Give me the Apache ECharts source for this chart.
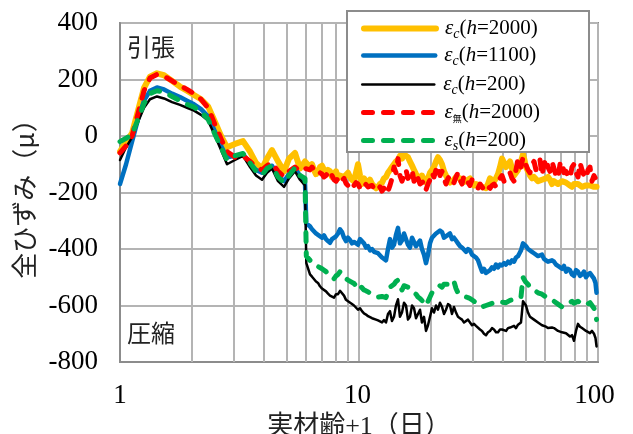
<!DOCTYPE html>
<html>
<head>
<meta charset="utf-8">
<script src="https://cdn.jsdelivr.net/npm/echarts@6/dist/echarts.min.js"></script>
<style>
  html, body { margin: 0; padding: 0; background: #fff; }
  #chart { width: 633px; height: 434px; }
</style>
</head>
<body>
<div id="chart"></div>
<script>
// Age + 1 (days), shared by every series
const age = [
  1.000, 1.060, 1.123, 1.190, 1.260, 1.335, 1.428, 1.528, 1.651, 1.782,
  1.907, 2.040, 2.183, 2.335, 2.498, 2.647, 2.804, 3.028, 3.271, 3.499,
  3.707, 3.928, 4.122, 4.325, 4.583, 4.856, 5.095, 5.398, 5.664, 5.943,
  6.000, 6.020,
  6.237, 6.360, 6.481, 6.608, 6.737, 6.868, 7.002, 7.138, 7.277, 7.419,
  7.564, 7.711, 7.861, 8.014, 8.170, 8.329, 8.491, 8.656, 8.823, 8.995,
  9.170, 9.349, 9.531, 9.714, 9.904, 10.10, 10.29, 10.49, 10.70, 10.91,
  11.12, 11.34, 11.56, 11.78, 12.01, 12.24, 12.48, 12.72, 12.97, 13.22,
  13.48, 13.74, 14.01, 14.28, 14.56, 14.84, 15.13, 15.43, 15.73, 16.03,
  16.34, 16.67, 16.99, 17.32, 17.65, 18.00, 18.34, 18.71, 19.07, 19.44,
  19.82, 20.20, 20.59, 21.00, 21.40, 21.82, 22.25, 22.68, 23.12, 23.57,
  24.03, 24.49, 24.97, 25.46, 25.95, 26.46, 26.98, 27.50, 28.03, 28.58,
  29.14, 29.70, 30.28, 30.87, 31.47, 32.08, 32.71, 33.34, 33.99, 34.65,
  35.33, 36.01, 36.72, 37.43, 38.16, 38.90, 39.66, 40.43, 41.22, 42.02,
  42.84, 43.67, 44.52, 45.38, 46.27, 46.95, 47.62, 48.55, 49.26, 49.96,
  50.94, 51.93, 52.94, 53.97, 55.02, 56.10, 57.19, 58.30, 59.43, 60.59,
  61.77, 62.97, 64.19, 65.45, 66.71, 68.02, 69.34, 70.69, 72.06, 73.47,
  74.89, 76.35, 77.84, 79.36, 80.89, 82.48, 84.07, 85.72, 87.38, 89.09,
  90.81, 92.59, 94.38, 96.22, 97.61, 98.6
];

// Total strain (μ)
const epsC2000 = [
  -55, -20, 10, 90, 170, 210, 222, 215, 195, 175,
  160, 145, 130, 105, 50, 0, -40, -28, -18, -55,
  -95, -115, -80, -50, -90, -125, -80, -60, -115, -90,
  -90, -92,
  -110, -100, -120, -135, -127, -110, -105, -120, -135, -120,
  -125, -145, -140, -125, -150, -140, -135, -145, -150, -130,
  -145, -155, -160, -130, -100, -140, -170, -150, -160, -165,
  -155, -170, -175, -185, -180, -170, -165, -150, -145, -130,
  -120, -110, -100, -90, -85, -70, -80, -65, -60, -75,
  -90, -105, -120, -135, -145, -150, -140, -155, -165, -150,
  -130, -120, -110, -90, -75, -85, -100, -125, -140, -155,
  -165, -160, -155, -145, -140, -150, -165, -170, -160, -155,
  -150, -165, -175, -170, -165, -175, -180, -175, -185, -170,
  -150, -145, -160, -150, -135, -110, -80, -95, -110, -100,
  -90, -115, -140, -130, -120, -100, -90, -65, -85, -110,
  -125, -140, -150, -145, -150, -160, -165, -155, -160, -150,
  -145, -155, -170, -160, -165, -170, -175, -160, -155, -165,
  -170, -175, -180, -170, -165, -170, -175, -180, -185, -175,
  -170, -175, -170, -180, -175, -180
];
const epsC1100 = [
  -170, -100, -20, 60, 125, 160, 172, 165, 150, 138,
  125, 112, 95, 70, 15, -35, -75, -70, -65, -95,
  -120, -130, -110, -105, -140, -160, -135, -115, -140, -165,
  -170, -310,
  -320, -330, -335, -345, -350, -355, -360, -352, -365, -372,
  -378, -365, -370, -355, -345, -330, -340, -360, -372, -360,
  -368, -380, -375, -370, -385, -365, -358, -380, -395, -390,
  -405, -400, -410, -405, -415, -420, -430, -425, -440, -400,
  -365, -395, -385, -350, -325, -380, -370, -345, -350, -385,
  -395, -360, -365, -390, -380, -370, -400, -420, -450, -420,
  -380, -360, -365, -345, -350, -335, -340, -360, -365, -350,
  -345, -365, -360, -370, -380, -390, -395, -400, -410, -400,
  -405, -420, -425, -430, -440, -460, -480, -470, -485, -480,
  -475, -465, -470, -455, -465, -455, -458, -450, -455, -445,
  -450, -440, -445, -430, -425, -415, -405, -380, -385, -390,
  -400, -405, -410, -415, -420, -425, -430, -420, -435, -440,
  -445, -450, -440, -445, -455, -460, -465, -470, -460, -480,
  -470, -475, -490, -495, -475, -480, -495, -490, -480, -500,
  -490, -485, -495, -505, -520, -555
];
const epsC200 = [
  -85, -40, -5, 50, 100, 130, 140, 133, 120, 110,
  100, 90, 75, 55, 0, -50, -100, -85, -70, -110,
  -140, -155, -130, -115, -160, -180, -150, -125, -155, -175,
  -180, -450,
  -490, -498, -505, -515, -520, -532, -540, -545, -550, -558,
  -565, -570, -572, -560, -560, -548, -550, -565, -580, -585,
  -590, -595, -600, -598, -615, -610, -620, -628, -632, -638,
  -642, -645, -648, -650, -653, -655, -660, -652, -660, -630,
  -620, -655, -640, -600, -578, -640, -625, -590, -600, -650,
  -640, -600, -610, -645, -630, -615, -660, -640, -690, -670,
  -640, -610, -625, -600, -615, -590, -605, -630, -615, -595,
  -600, -630, -605, -625, -640, -645, -650, -660, -655, -650,
  -660, -670, -665, -672, -675, -685, -690, -700, -705, -695,
  -690, -680, -685, -695, -695, -685, -685, -690, -690, -680,
  -678, -685, -672, -680, -668, -665, -660, -585, -590, -600,
  -625, -640, -645, -650, -655, -660, -665, -670, -668, -675,
  -680, -685, -678, -680, -685, -690, -688, -695, -690, -698,
  -700, -710, -705, -725, -690, -665, -675, -680, -685, -690,
  -695, -698, -690, -700, -715, -745
];
const epsMu2000 = [
  -60, -35, 0, 80, 160, 205, 218, 212, 195, 178,
  165, 150, 130, 100, 40, -10, -55, -75, -70, -90,
  -110, -120, -105, -95, -125, -145, -125, -110, -125, -115,
  -115, -117,
  -120, -110, -115, -130, -125, -120, -135, -145, -140, -130,
  -148, -140, -155, -160, -150, -165, -160, -150, -168, -175,
  -160, -170, -175, -165, -170, -185, -178, -165, -172, -180,
  -185, -175, -180, -195, -190, -180, -195, -185, -205, -195,
  -175, -150, -110, -130, -80, -140, -160, -140, -120, -150,
  -140, -120, -160, -135, -150, -170, -175, -160, -190, -170,
  -155, -130, -145, -120, -105, -140, -125, -150, -170, -150,
  -140, -160, -165, -145, -130, -155, -170, -140, -150, -165,
  -175, -155, -160, -175, -185, -170, -180, -190, -195, -180,
  -185, -175, -170, -180, -165, -150, -140, -160, -155, -140,
  -130, -150, -160, -120, -80, -100, -110, -75, -90, -95,
  -120, -130, -100, -90, -120, -110, -85, -140, -100, -80,
  -110, -125, -90, -115, -140, -150, -100, -90, -130, -125,
  -140, -150, -110, -100, -130, -145, -95, -120, -140, -150,
  -120, -110, -160, -140, -150, -175
];
const epsS200 = [
  -20, -8, 5, 60, 115, 150, 160, 155, 140, 125,
  112, 102, 85, 60, 5, -40, -85, -70, -62, -95,
  -125, -138, -115, -105, -145, -165, -140, -112, -140, -150,
  -155, -425,
  -440, -445, -450, -458, -462, -465, -470, -475, -480, -490,
  -500, -495, -505, -495, -490, -480, -485, -495, -505, -510,
  -515, -518, -522, -530, -540, -530, -535, -545, -548, -552,
  -557, -560, -565, -568, -570, -565, -568, -575, -572, -550,
  -535, -540, -525, -515, -510, -530, -545, -530, -525, -535,
  -545, -550, -555, -560, -570, -575, -580, -590, -600, -585,
  -570, -555, -548, -545, -540, -530, -535, -525, -530, -525,
  -520, -510, -515, -540, -555, -560, -565, -560, -570, -572,
  -575, -580, -585, -590, -595, -600, -605, -600, -600, -598,
  -595, -590, -590, -595, -592, -588, -588, -585, -590, -585,
  -582, -580, -578, -576, -575, -572, -570, -500, -510, -518,
  -525, -535, -540, -545, -550, -555, -558, -560, -565, -570,
  -575, -580, -582, -585, -590, -595, -600, -605, -602, -600,
  -595, -590, -585, -592, -590, -585, -590, -595, -592, -598,
  -595, -590, -600, -610, -625, -650
];

const seriesNames = ['εc(h=2000)', 'εc(h=1100)', 'εc(h=200)', 'ε無(h=2000)', 'εs(h=200)'];
const legendLabels = [
  '{e|ε}{s|c}{t|(}{i|h}{t|=2000)}',
  '{e|ε}{s|c}{t|(}{i|h}{t|=1100)}',
  '{e|ε}{s|c}{t|(}{i|h}{t|=200)}',
  '{e|ε}{k|無}{t|(}{i|h}{t|=2000)}',
  '{e|ε}{s|s}{t|(}{i|h}{t|=200)}'
];
const yTicks = { min: -800, max: 400, step: 200 };
const minorDays = [2, 3, 4, 5, 6, 7, 8, 9, 20, 30, 40, 50, 60, 70, 80, 90];

const serif = 'Liberation Serif';
const cjk = '"Noto Sans CJK JP"';
const gridColor = '#b4b4b4';
const frameColor = '#8c8c8c';

const styles = [
  { data: epsC2000, color: '#FFC000', width: 6, type: 'solid' },
  { data: epsC1100, color: '#0070C0', width: 4.5, type: 'solid' },
  { data: epsC200, color: '#000000', width: 2.5, type: 'solid' },
  { data: epsMu2000, color: '#FF0000', width: 5, type: [9, 11] },
  { data: epsS200, color: '#00B050', width: 5, type: [9, 11] }
];

const lineSeries = styles.map((s, k) => ({
  name: seriesNames[k],
  type: 'line',
  data: age.map((a, i) => [a, s.data[i]]),
  showSymbol: false,
  symbol: 'none',
  z: 3 + k,
  lineStyle: { color: s.color, width: s.width, type: s.type, cap: 'round', join: 'round' },
  itemStyle: { color: s.color },
  emphasis: { disabled: true },
  animation: false
}));

// Minor log gridlines (2..9, 20..90)
const gridSeries = {
  type: 'line',
  data: [],
  z: 1,
  silent: true,
  markLine: {
    z: 1,
    silent: true,
    symbol: 'none',
    label: { show: false },
    lineStyle: { color: gridColor, width: 2, type: 'solid' },
    emphasis: { disabled: true },
    animation: false,
    data: minorDays.map(d => ({ xAxis: d }))
  }
};

const richStyles = {
  e: { fontFamily: serif, fontStyle: 'italic', fontSize: 21, lineHeight: 26, color: '#000', padding: [0, 0, 0, 4] },
  s: { fontFamily: serif, fontStyle: 'italic', fontSize: 14, padding: [11, 0, 0, 0], color: '#000' },
  k: { fontFamily: cjk, fontSize: 9, padding: [13, 0, 0, 0], color: '#000' },
  t: { fontFamily: serif, fontSize: 21, lineHeight: 26, color: '#000' },
  i: { fontFamily: serif, fontStyle: 'italic', fontSize: 21, lineHeight: 26, color: '#000' }
};
const legendRows = [25, 52, 81, 109, 137];
const legends = seriesNames.map((n, k) => ({
  data: [n],
  left: 361,
  top: legendRows[k] - 7,
  orient: 'vertical',
  padding: 0,
  itemWidth: 72,
  itemHeight: 14,
  selectedMode: false,
  z: 10,
  itemStyle: { opacity: 0 },
  lineStyle: { width: styles[k].width, type: styles[k].type, cap: 'round', color: styles[k].color },
  formatter: () => legendLabels[k],
  textStyle: { rich: richStyles }
}));

// Tick labels nudged slightly left of their ticks, as typeset in the original chart
const xLabelStyle = { fontFamily: serif, fontSize: 27, color: '#000' };
const xLabelRich = {
  a: Object.assign({}, xLabelStyle),
  b: Object.assign({ padding: [0, 3, 0, 0] }, xLabelStyle),
  c: Object.assign({ padding: [0, 7, 0, 0] }, xLabelStyle)
};

const chart = echarts.init(document.getElementById('chart'), null, { renderer: 'canvas' });
chart.setOption({
  backgroundColor: '#fff',
  animation: false,
  grid: {
    left: 120, right: 35, top: 23, bottom: 72,
    outerBoundsMode: 'none',
    containLabel: false,
    show: true, borderColor: frameColor, borderWidth: 2, backgroundColor: 'transparent'
  },
  xAxis: {
    type: 'log',
    logBase: 10,
    min: 1,
    max: 100,
    name: '実材齢+1（日）',
    nameLocation: 'middle',
    nameGap: 49,
    nameTextStyle: { fontFamily: serif + ', ' + cjk, fontSize: 26, color: '#222' },
    axisLine: { onZero: false, lineStyle: { color: frameColor, width: 2 } },
    axisTick: { show: false },
    axisLabel: {
      margin: 20,
      formatter: v => (v >= 100 ? '{c|' + v + '}' : v >= 10 ? '{b|' + v + '}' : '{a|' + v + '}'),
      rich: xLabelRich
    },
    splitLine: { show: true, lineStyle: { color: gridColor, width: 2 } }
  },
  yAxis: {
    type: 'value',
    min: yTicks.min,
    max: yTicks.max,
    interval: yTicks.step,
    name: '全ひずみ（μ）',
    nameLocation: 'middle',
    nameRotate: 90,
    nameGap: 81,
    nameTextStyle: { fontFamily: cjk, fontSize: 26, color: '#222' },
    axisLine: { show: true, lineStyle: { color: frameColor, width: 2 } },
    axisTick: { show: false },
    axisLabel: { fontFamily: serif, fontSize: 27, color: '#000', margin: 22 },
    splitLine: { show: true, lineStyle: { color: gridColor, width: 2 } }
  },
  legend: legends,
  graphic: [
    {
      type: 'rect', z: 8,
      shape: { x: 347, y: 11, width: 242, height: 141 },
      style: { fill: '#fff', stroke: frameColor, lineWidth: 2 }
    },
    {
      type: 'text', z: 8,
      style: { text: '引張', x: 127, y: 47, verticalAlign: 'middle', font: '24px ' + cjk, fill: '#222' }
    },
    {
      type: 'text', z: 8,
      style: { text: '圧縮', x: 127, y: 333, verticalAlign: 'middle', font: '24px ' + cjk, fill: '#222' }
    }
  ],
  series: [gridSeries].concat(lineSeries)
});
</script>
</body>
</html>
